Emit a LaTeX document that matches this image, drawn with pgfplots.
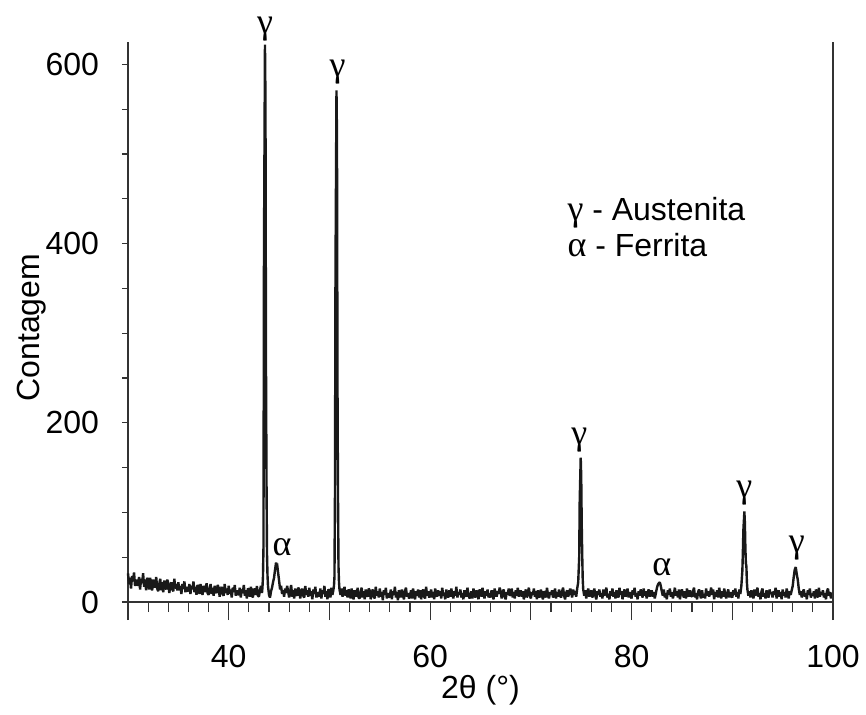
\documentclass[border=0pt]{standalone}
\usepackage{fontspec}
\setmainfont{Liberation Sans}
\newfontfamily\grk{Liberation Serif}
\usepackage{pgfplots}
\usepackage{pgfplotstable}
\pgfplotsset{compat=1.18}

% XRD pattern, 2theta vs counts
\pgfplotstableread{
x y
30.0 32
30.1 20
30.2 27
30.3 15
30.4 29
30.5 23
30.6 33
30.7 18
30.8 25
30.9 19
31.0 19
31.1 28
31.2 14
31.3 26
31.4 21
31.5 32
31.6 17
31.7 25
31.8 13
31.9 27
32.0 24
32.1 14
32.2 27
32.3 18
32.4 13
32.5 25
32.6 21
32.7 16
32.8 28
32.9 15
33.0 12
33.1 20
33.2 26
33.3 13
33.4 22
33.5 11
33.6 24
33.7 17
33.8 14
33.9 25
34.0 21
34.1 10
34.2 18
34.3 22
34.4 14
34.5 12
34.6 26
34.7 15
34.8 20
34.9 13
35.0 22
35.1 13
35.2 18
35.3 9
35.4 20
35.5 15
35.6 23
35.7 11
35.8 17
35.9 12
36.0 13
36.1 20
36.2 9
36.3 18
36.4 14
36.5 23
36.6 11
36.7 17
36.8 8
36.9 19
37.0 17
37.1 9
37.2 20
37.3 12
37.4 8
37.5 18
37.6 15
37.7 11
37.8 21
37.9 10
38.0 8
38.1 15
38.2 20
38.3 9
38.4 16
38.5 7
38.6 18
38.7 12
38.8 10
38.9 19
39.0 16
39.1 6
39.2 13
39.3 17
39.4 9
39.5 7
39.6 20
39.7 10
39.8 15
39.9 8
40.0 18
40.1 9
40.2 14
40.3 5
40.4 16
40.5 11
40.6 19
40.7 7
40.8 13
40.9 8
41.0 9
41.1 16
41.2 5
41.3 14
41.4 10
41.5 19
41.6 7
41.7 13
41.8 4
41.9 15
42.0 14
42.1 6
42.2 17
42.3 9
42.4 5
42.5 15
42.6 12
42.7 8
42.8 18
42.9 7
43.0 6
43.1 13
43.2 18
43.3 10
43.35 16
43.4 28
43.45 60
43.5 385
43.6 622
43.65 560
43.7 270
43.75 140
43.8 55
43.85 30
43.9 18
44.0 8
44.1 5
44.2 12
44.3 16
44.4 22
44.5 27
44.6 36
44.7 44
44.75 40
44.8 43
44.9 33
45.0 24
45.1 14
45.2 18
45.3 9
45.4 13
45.5 6
45.6 15
45.7 10
45.8 18
45.9 12
46.0 5
46.1 12
46.2 19
46.3 6
46.4 13
46.5 4
46.6 15
46.7 9
46.8 7
46.9 16
47.0 14
47.1 4
47.2 11
47.3 15
47.4 7
47.5 5
47.6 18
47.7 8
47.8 13
47.9 6
48.0 16
48.1 7
48.2 12
48.3 3
48.4 14
48.5 9
48.6 17
48.7 5
48.8 11
48.9 6
49.0 8
49.1 15
49.2 4
49.3 13
49.4 9
49.5 18
49.6 6
49.7 12
49.8 3
49.9 14
50.0 13
50.1 5
50.2 16
50.3 8
50.4 14
50.45 18
50.5 28
50.55 120
50.6 363
50.7 571
50.75 520
50.8 243
50.85 120
50.9 40
50.95 22
51.0 14
51.1 8
51.2 15
51.3 6
51.4 12
51.5 17
51.6 7
51.7 13
51.8 5
51.9 14
52.0 12
52.1 4
52.2 15
52.3 7
52.4 3
52.5 13
52.6 10
52.7 6
52.8 16
52.9 5
53.0 4
53.1 11
53.2 16
53.3 5
53.4 12
53.5 3
53.6 14
53.7 8
53.8 6
53.9 15
54.0 13
54.1 3
54.2 10
54.3 14
54.4 6
54.5 4
54.6 17
54.7 7
54.8 12
54.9 5
55.0 15
55.1 6
55.2 11
55.3 2
55.4 13
55.5 8
55.6 16
55.7 4
55.8 10
55.9 5
56.0 7
56.1 14
56.2 3
56.3 12
56.4 8
56.5 17
56.6 5
56.7 11
56.8 2
56.9 13
57.0 11
57.1 5
57.2 14
57.3 8
57.4 3
57.5 12
57.6 16
57.7 6
57.8 10
57.9 4
58.0 6
58.1 13
58.2 4
58.3 15
58.4 9
58.5 3
58.6 12
58.7 7
58.8 14
58.9 5
59.0 13
59.1 3
59.2 10
59.3 14
59.4 6
59.5 4
59.6 17
59.7 7
59.8 12
59.9 5
60.0 8
60.1 14
60.2 5
60.3 11
60.4 3
60.5 15
60.6 9
60.7 6
60.8 13
60.9 7
61.0 12
61.1 4
61.2 16
61.3 7
61.4 10
61.5 3
61.6 14
61.7 8
61.8 5
61.9 13
62.0 6
62.1 15
62.2 9
62.3 4
62.4 12
62.5 7
62.6 17
62.7 5
62.8 11
62.9 8
63.0 14
63.1 5
63.2 10
63.3 3
63.4 13
63.5 8
63.6 6
63.7 16
63.8 9
63.9 4
64.0 7
64.1 12
64.2 4
64.3 15
64.4 9
64.5 5
64.6 13
64.7 10
64.8 3
64.9 14
65.0 11
65.1 6
65.2 16
65.3 8
65.4 4
65.5 12
65.6 7
65.7 14
65.8 5
65.9 10
66.0 5
66.1 13
66.2 8
66.3 3
66.4 15
66.5 10
66.6 6
66.7 12
66.8 9
66.9 16
67.0 12
67.1 4
67.2 10
67.3 14
67.4 6
67.5 3
67.6 11
67.7 8
67.8 15
67.9 7
68.0 9
68.1 15
68.2 5
68.3 11
68.4 4
68.5 13
68.6 7
68.7 16
68.8 6
68.9 10
69.0 13
69.1 6
69.2 12
69.3 3
69.4 9
69.5 14
69.6 5
69.7 10
69.8 16
69.9 7
70.0 4
70.1 11
70.2 8
70.3 15
70.4 6
70.5 12
70.6 3
70.7 13
70.8 9
70.9 5
71.0 14
71.1 7
71.2 3
71.3 12
71.4 10
71.5 5
71.6 16
71.7 8
71.8 4
71.9 11
72.0 8
72.1 13
72.2 5
72.3 9
72.4 15
72.5 4
72.6 11
72.7 6
72.8 14
72.9 7
73.0 5
73.1 12
73.2 16
73.3 7
73.4 3
73.5 10
73.6 13
73.7 6
73.8 9
73.9 15
74.0 11
74.1 5
74.2 14
74.3 8
74.4 12
74.5 6
74.6 15
74.7 22
74.8 50
74.85 113
74.95 161
75.0 140
75.05 87
75.1 52
75.15 25
75.2 14
75.3 7
75.4 13
75.5 4
75.6 11
75.7 15
75.8 6
75.9 10
76.0 13
76.1 5
76.2 9
76.3 15
76.4 7
76.5 3
76.6 12
76.7 8
76.8 14
76.9 6
77.0 10
77.1 4
77.2 14
77.3 7
77.4 11
77.5 16
77.6 5
77.7 9
77.8 3
77.9 12
78.0 7
78.1 15
78.2 6
78.3 11
78.4 4
78.5 13
78.6 9
78.7 5
78.8 16
78.9 8
79.0 12
79.1 3
79.2 10
79.3 14
79.4 6
79.5 9
79.6 15
79.7 5
79.8 11
79.9 7
80.0 4
80.1 13
80.2 8
80.3 16
80.4 6
80.5 10
80.6 3
80.7 12
80.8 7
80.9 14
81.0 9
81.1 5
81.2 15
81.3 7
81.4 12
81.5 4
81.6 11
81.7 14
81.8 6
81.9 10
82.0 13
82.1 6
82.2 11
82.3 4
82.4 9
82.5 15
82.6 19
82.7 21
82.8 22
82.9 18
83.0 12
83.1 7
83.2 14
83.3 5
83.4 10
83.5 3
83.6 13
83.7 8
83.8 15
83.9 6
84.0 11
84.1 4
84.2 9
84.3 16
84.4 7
84.5 12
84.6 5
84.7 14
84.8 3
84.9 10
85.0 14
85.1 8
85.2 5
85.3 12
85.4 4
85.5 15
85.6 9
85.7 6
85.8 13
85.9 7
86.0 6
86.1 12
86.2 16
86.3 5
86.4 10
86.5 3
86.6 11
86.7 14
86.8 8
86.9 4
87.0 13
87.1 5
87.2 9
87.3 4
87.4 15
87.5 7
87.6 12
87.7 6
87.8 10
87.9 16
88.0 8
88.1 14
88.2 3
88.3 11
88.4 6
88.5 13
88.6 5
88.7 16
88.8 9
88.9 4
89.0 12
89.1 6
89.2 15
89.3 8
89.4 4
89.5 10
89.6 14
89.7 5
89.8 11
89.9 7
90.0 5
90.1 13
90.2 8
90.3 15
90.4 6
90.5 11
90.6 4
90.7 14
90.8 9
90.9 18
91.0 35
91.05 55
91.1 80
91.2 101
91.25 88
91.3 60
91.35 43
91.4 40
91.45 22
91.5 14
91.6 7
91.7 12
91.8 5
91.9 13
92.0 9
92.1 4
92.2 14
92.3 7
92.4 11
92.5 16
92.6 6
92.7 10
92.8 3
92.9 12
93.0 15
93.1 6
93.2 10
93.3 4
93.4 13
93.5 8
93.6 5
93.7 14
93.8 9
93.9 11
94.0 5
94.1 12
94.2 8
94.3 16
94.4 4
94.5 10
94.6 13
94.7 6
94.8 11
94.9 3
95.0 14
95.1 7
95.2 11
95.3 5
95.4 15
95.5 9
95.6 4
95.7 12
95.8 8
95.9 13
96.0 18
96.1 28
96.2 36
96.3 39
96.4 31
96.5 25
96.6 15
96.7 8
96.8 12
96.9 5
97.0 11
97.1 14
97.2 6
97.3 10
97.4 3
97.5 13
97.6 8
97.7 15
97.8 5
97.9 9
98.0 7
98.1 12
98.2 4
98.3 14
98.4 9
98.5 5
98.6 16
98.7 6
98.8 11
98.9 8
99.0 13
99.1 5
99.2 10
99.3 3
99.4 12
99.5 15
99.6 7
99.7 11
99.8 4
99.9 9
100.0 10
}\xrd

\begin{document}
\begin{tikzpicture}
\begin{axis}[
    name=main,
    scale only axis,
    width=352.5pt, height=280pt,
    xmin=30, xmax=100, ymin=0, ymax=625,
    axis lines=left,
    axis line style={-, line width=0.6pt, black!80},
    clip=false,
    xtick={30,40,...,100},
    xticklabels={,40,,60,,80,,100},
    minor x tick num=4,
    ytick={0,200,400,600},
    minor y tick num=3,
    tick align=outside,
    major tick length=3pt, minor tick length=3pt,
    xtick style={/pgfplots/major tick length=9pt, /pgfplots/minor tick length=5pt, line width=0.6pt, black!80},
    ytick style={line width=0.6pt, black!80},
    tick label style={font=\fontsize{16}{19}\selectfont, /pgf/number format/assume math mode=true},
    xticklabel style={yshift=-15pt},
    yticklabel style={xshift=-8pt},
    xlabel={2θ (°)},
    ylabel={Contagem},
    every axis x label/.style={at={(axis description cs:0.5,0)}, anchor=center, yshift=-44pt, font=\fontsize{16}{19}\selectfont},
    every axis y label/.style={at={(axis description cs:0,0.49)}, anchor=center, rotate=90, yshift=48pt, font=\fontsize{16}{19}\selectfont},
  ]
  \addplot[black!90, line width=1.2pt, line join=bevel] table[x=x, y=y] {\xrd};
  \draw[line width=0.6pt, black!80] (rel axis cs:1,0) -- (rel axis cs:1,1);
  \begin{scope}[every node/.style={font=\grk\fontsize{18}{20}\selectfont, inner sep=1pt, anchor=south}]
    \node at (axis cs:43.6,623) {γ};
    \node at (axis cs:50.8,575) {γ};
    \node at (axis cs:74.8,165) {γ};
    \node at (axis cs:45.3,49) {α};
    \node at (axis cs:83.0,27) {α};
    \node at (axis cs:91.2,105) {γ};
    \node at (axis cs:96.4,44) {γ};
  \end{scope}
  \node[anchor=west, inner sep=0pt, font=\fontsize{16}{19}\selectfont] at (axis cs:73.6,435) {{\grk\fontsize{18}{20}\selectfont γ} - Austenita};
  \node[anchor=west, inner sep=0pt, font=\fontsize{16}{19}\selectfont] at (axis cs:73.6,398) {{\grk\fontsize{18}{20}\selectfont α} - Ferrita};
\end{axis}
\pgfresetboundingbox
\path[use as bounding box] ([shift={(-64pt,-56pt)}]main.south west) rectangle ([shift={(16.5pt,21pt)}]main.north east);
\end{tikzpicture}
\end{document}
